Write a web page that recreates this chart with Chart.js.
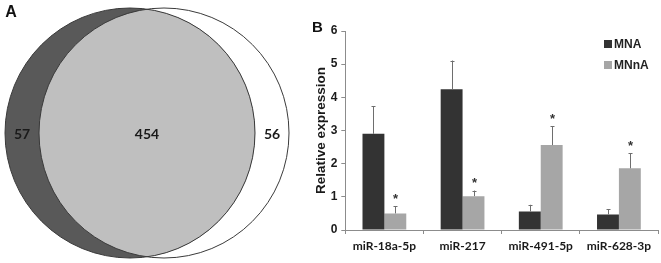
<!DOCTYPE html>
<html>
<head>
<meta charset="utf-8">
<script src="https://cdn.jsdelivr.net/npm/chart.js@4"></script>
<style>
  html, body { margin: 0; padding: 0; background: #fff; }
  #wrap { position: relative; width: 661px; height: 263px; }
  #vennBox { position: absolute; left: 0; top: 0; width: 300px; height: 263px; }
  #barBox { position: absolute; left: 300px; top: 0; width: 361px; height: 263px; }
</style>
</head>
<body>
<div id="wrap">
  <div id="vennBox"><canvas id="venn"></canvas></div>
  <div id="barBox"><canvas id="bars"></canvas></div>
</div>
<script>
// Panel A: counts of the Venn regions (left only, shared, right only)
const vennCounts = [57, 454, 56];

// Panel B: relative expression
const categories = ["miR-18a-5p", "miR-217", "miR-491-5p", "miR-628-3p"];
const seriesNames = ["MNA", "MNnA"];
const mnaValues = [2.90, 4.24, 0.56, 0.47];
const mnaErrors = [0.83, 0.87, 0.20, 0.15];
const mnnaValues = [0.50, 1.02, 2.56, 1.86];
const mnnaErrors = [0.21, 0.17, 0.57, 0.45];
const mnnaStars = [true, true, true, true];
const yTicks = [0, 1, 2, 3, 4, 5, 6];

const boldArial = "bold 12px 'Liberation Sans', Arial, sans-serif";

// ---------- Venn ----------
const vennPlugin = {
  id: "venn",
  afterDraw(chart) {
    const { ctx, scales: { x, y } } = chart;
    const half = 0.136; // half distance between circle centres (unit radius)
    const cy = y.getPixelForValue(0);
    const lx = x.getPixelForValue(-half), rx = x.getPixelForValue(half);
    const rX = x.getPixelForValue(1) - x.getPixelForValue(0);
    const rY = y.getPixelForValue(0) - y.getPixelForValue(1);

    const circle = cx => { ctx.beginPath(); ctx.ellipse(cx, cy, rX, rY, 0, 0, Math.PI * 2); };

    ctx.save();
    circle(rx); ctx.fillStyle = "#ffffff"; ctx.fill();
    circle(lx); ctx.fillStyle = "#595959"; ctx.fill();
    ctx.save();
    circle(lx); ctx.clip();
    circle(rx); ctx.fillStyle = "#bfbfbf"; ctx.fill();
    ctx.restore();
    ctx.lineWidth = 1;
    ctx.strokeStyle = "#3a3a3a";
    circle(lx); ctx.stroke();
    circle(rx); ctx.stroke();

    // region labels
    ctx.fillStyle = "#1a1a1a";
    ctx.font = "bold 14px Lato, 'Open Sans', sans-serif";
    ctx.textAlign = "center";
    ctx.textBaseline = "middle";
    const xs = [x.getPixelForValue(-1), x.getPixelForValue(0), x.getPixelForValue(1)];
    vennCounts.forEach((n, i) => ctx.fillText(String(n), xs[i], cy + 1));

    ctx.font = "bold 16px 'Liberation Sans', Arial, sans-serif";
    ctx.fillStyle = "#111";
    ctx.fillText("A", 11, 13);
    ctx.restore();
  }
};

new Chart(document.getElementById("venn"), {
  type: "scatter",
  data: { datasets: [] },
  options: {
    responsive: true,
    maintainAspectRatio: false,
    animation: false,
    layout: { padding: 0 },
    plugins: { legend: { display: false }, tooltip: { enabled: false } },
    scales: {
      x: { display: false, min: -1.176, max: 1.224 },
      y: { display: false, min: -1.04, max: 1.064 }
    }
  },
  plugins: [vennPlugin]
});

// ---------- Bars ----------
const errorBars = {
  id: "errorBars",
  afterDatasetsDraw(chart) {
    const { ctx, scales: { y } } = chart;
    ctx.save();
    chart.data.datasets.forEach((ds, i) => {
      const meta = chart.getDatasetMeta(i);
      meta.data.forEach((bar, j) => {
        const top = y.getPixelForValue(ds.data[j] + ds.errors[j]);
        const bx = Math.round(bar.x) + 0.5;
        ctx.strokeStyle = "#6e6e6e";
        ctx.lineWidth = 1;
        ctx.beginPath();
        ctx.moveTo(bx, bar.y);
        ctx.lineTo(bx, top);
        ctx.moveTo(bx - 2, Math.round(top) + 0.5);
        ctx.lineTo(bx + 2, Math.round(top) + 0.5);
        ctx.stroke();
        if (ds.stars && ds.stars[j]) {
          ctx.fillStyle = "#333";
          ctx.font = "bold 13px 'Liberation Sans', Arial, sans-serif";
          ctx.textAlign = "center";
          ctx.textBaseline = "middle";
          ctx.fillText("*", bx, top - 7);
        }
      });
    });
    ctx.restore();
  }
};

const sideLegend = {
  id: "sideLegend",
  afterDraw(chart) {
    const { ctx } = chart;
    ctx.save();
    ctx.font = boldArial;
    ctx.textBaseline = "middle";
    ctx.textAlign = "left";
    chart.data.datasets.forEach((ds, i) => {
      const yy = 44 + i * 21;
      ctx.fillStyle = ds.backgroundColor;
      ctx.fillRect(304, yy - 4, 8, 8);
      ctx.fillStyle = "#222";
      ctx.fillText(ds.label, 314, yy + 1);
    });
    ctx.font = "bold 15px 'Liberation Sans', Arial, sans-serif";
    ctx.fillStyle = "#111";
    ctx.textAlign = "center";
    ctx.fillText("B", 17.5, 28);
    ctx.restore();
  }
};

new Chart(document.getElementById("bars"), {
  type: "bar",
  data: {
    labels: categories,
    datasets: [
      { label: seriesNames[0], data: mnaValues, errors: mnaErrors, backgroundColor: "#333333" },
      { label: seriesNames[1], data: mnnaValues, errors: mnnaErrors, stars: mnnaStars, backgroundColor: "#a6a6a6" }
    ]
  },
  options: {
    responsive: true,
    maintainAspectRatio: false,
    animation: false,
    layout: { padding: { top: 31, right: 3, left: 0, bottom: 0 } },
    datasets: { bar: { categoryPercentage: 0.56, barPercentage: 1.0 } },
    plugins: { legend: { display: false }, tooltip: { enabled: false } },
    scales: {
      x: {
        grid: { display: true, drawOnChartArea: false, drawTicks: true, tickLength: 4, color: "#8c8c8c", offset: true },
        border: { color: "#8c8c8c" },
        ticks: { color: "#1a1a1a", padding: 5, font: { family: "Lato, 'Open Sans', sans-serif", size: 12, weight: "bold" }, maxRotation: 0 },
        afterFit(scale) { scale.height = 33; }
      },
      y: {
        min: 0, max: 6,
        afterBuildTicks(scale) { scale.ticks = yTicks.map(v => ({ value: v })); },
        grid: { display: true, drawOnChartArea: false, drawTicks: true, tickLength: 4, color: "#8c8c8c" },
        border: { color: "#8c8c8c" },
        ticks: { color: "#1a1a1a", padding: 4, font: { family: "'Liberation Sans', Arial, sans-serif", size: 12, weight: "bold" } },
        title: { display: true, text: "Relative expression", color: "#1a1a1a", padding: { top: 13.5, bottom: 0 }, font: { family: "'Liberation Sans', Arial, sans-serif", size: 13.5, weight: "bold" } },
        afterFit(scale) { scale.width = 45.3; }
      }
    }
  },
  plugins: [errorBars, sideLegend]
});
</script>
</body>
</html>
